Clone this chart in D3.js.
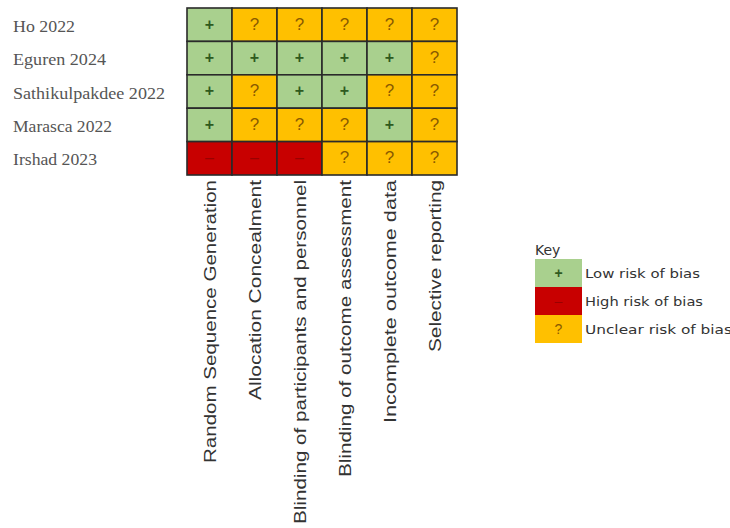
<!DOCTYPE html>
<html>
<head>
<meta charset="utf-8">
<script src="https://cdn.jsdelivr.net/npm/d3@7"></script>
<style>
  body { margin: 0; background: #fff; }
</style>
</head>
<body>
<div id="chart"></div>
<script>
const studies = ["Ho 2022", "Eguren 2024", "Sathikulpakdee 2022", "Marasca 2022", "Irshad 2023"];
const domains = [
    "Random Sequence Generation",
    "Allocation Concealment",
    "Blinding of participants and personnel",
    "Blinding of outcome assessment",
    "Incomplete outcome data",
    "Selective reporting"
];
// L = low, H = high, U = unclear
const ratings = [
    ["L", "U", "U", "U", "U", "U"],
    ["L", "L", "L", "L", "L", "U"],
    ["L", "U", "L", "L", "U", "U"],
    ["L", "U", "U", "U", "L", "U"],
    ["H", "H", "H", "U", "U", "U"]
];
const keyLabels = ["Low risk of bias", "High risk of bias", "Unclear risk of bias"];
const keyCodes = ["L", "H", "U"];

// measured lengths of the (stretched) labels in the reference
const rowLabelLen = [62, 93, 152, 99, 84];
const colLabelLen = [283, 220, 344, 297, 243, 172];
const keyLabelLen = [115, 118, 147];

const fill = { L: "#a9d08e", H: "#c80000", U: "#ffc000" };
const symbol = { L: "+", H: "\u2013", U: "?" };
const symColor = { L: "#2f5a1e", H: "#9a0000", U: "#8a5a00" };

const width = 730, height = 528;
const svg = d3.select("#chart").append("svg")
    .attr("width", width)
    .attr("height", height);

const x = d3.scaleBand().domain(domains).range([187, 457]);
const y = d3.scaleBand().domain(studies).range([8, 175]);

// column labels
svg.append("g").selectAll("text")
    .data(domains)
    .join("text")
    .attr("transform", d => `translate(${x(d) + x.bandwidth() / 2 + 6},180) rotate(-90)`)
    .attr("text-anchor", "end")
    .attr("font-family", "Liberation Sans, Arial, sans-serif")
    .attr("font-size", 16)
    .attr("fill", "#333")
    .attr("textLength", (d, i) => colLabelLen[i])
    .attr("lengthAdjust", "spacingAndGlyphs")
    .text(d => d);

// row labels
svg.append("g").selectAll("text")
    .data(studies)
    .join("text")
    .attr("x", 13)
    .attr("y", d => y(d) + y.bandwidth() / 2 + 7)
    .attr("font-family", "Liberation Serif, Times New Roman, serif")
    .attr("font-size", 17)
    .attr("fill", "#555")
    .attr("textLength", (d, i) => rowLabelLen[i])
    .attr("lengthAdjust", "spacingAndGlyphs")
    .text(d => d);

const cells = [];
ratings.forEach((row, i) => row.forEach((r, j) => cells.push({ study: studies[i], domain: domains[j], r })));

const cellG = svg.append("g").selectAll("g")
    .data(cells)
    .join("g")
    .attr("transform", d => `translate(${x(d.domain)},${y(d.study)})`);

cellG.append("rect")
    .attr("width", x.bandwidth())
    .attr("height", y.bandwidth())
    .attr("fill", d => fill[d.r])
    .attr("stroke", "#2a2a2a")
    .attr("stroke-width", 1.6);

cellG.append("text")
    .attr("x", x.bandwidth() / 2)
    .attr("y", y.bandwidth() / 2 + 5)
    .attr("text-anchor", "middle")
    .attr("font-family", "Liberation Sans, Arial, sans-serif")
    .attr("font-size", d => d.r === "U" ? 17 : 16)
    .attr("font-weight", d => d.r === "L" ? "bold" : "normal")
    .attr("fill", d => symColor[d.r])
    .text(d => symbol[d.r]);

// key
const key = svg.append("g").attr("transform", "translate(535,0)");
key.append("text")
    .attr("x", 0)
    .attr("y", 255)
    .attr("font-family", "DejaVu Sans, sans-serif")
    .attr("font-size", 14)
    .attr("fill", "#333")
    .text("Key");

const ky = d3.scaleBand().domain(keyCodes).range([259, 343]);

const keyRows = key.selectAll("g.k")
    .data(keyCodes)
    .join("g")
    .attr("class", "k")
    .attr("transform", d => `translate(0,${ky(d)})`);

keyRows.append("rect")
    .attr("width", 47)
    .attr("height", ky.bandwidth())
    .attr("fill", d => fill[d]);

keyRows.append("text")
    .attr("x", 23.5)
    .attr("y", ky.bandwidth() / 2 + 5)
    .attr("text-anchor", "middle")
    .attr("font-family", "Liberation Sans, Arial, sans-serif")
    .attr("font-size", 14)
    .attr("font-weight", d => d === "L" ? "bold" : "normal")
    .attr("fill", d => symColor[d])
    .text(d => symbol[d]);

keyRows.append("text")
    .attr("x", 50)
    .attr("y", ky.bandwidth() / 2 + 5)
    .attr("font-family", "DejaVu Sans, sans-serif")
    .attr("font-size", 13)
    .attr("fill", "#333")
    .attr("textLength", (d, i) => keyLabelLen[i])
    .attr("lengthAdjust", "spacingAndGlyphs")
    .text((d, i) => keyLabels[i]);
</script>
</body>
</html>
